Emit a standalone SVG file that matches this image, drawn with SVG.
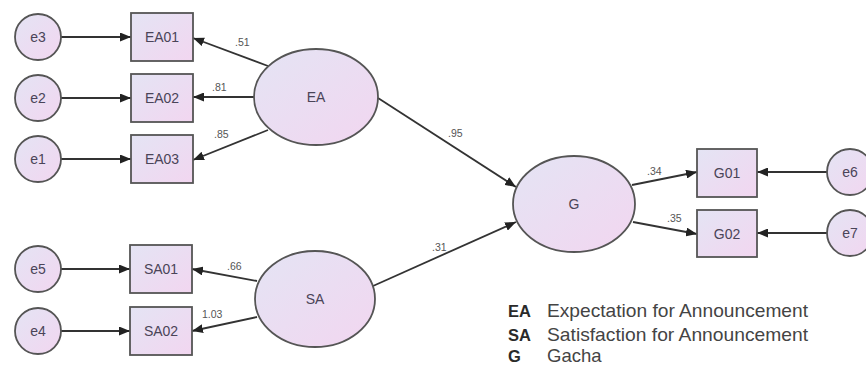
<svg xmlns="http://www.w3.org/2000/svg" width="866" height="369" viewBox="0 0 866 369">
<defs>
<linearGradient id="fill" x1="0" y1="0" x2="1" y2="1">
<stop offset="0" stop-color="#e4e4f4"/>
<stop offset="1" stop-color="#f2d6f0"/>
</linearGradient>
<marker id="arr" markerUnits="userSpaceOnUse" markerWidth="11" markerHeight="9" refX="11" refY="4.5" orient="auto">
<path d="M0,0 L11,4.5 L0,9 z" fill="#222"/>
</marker>
</defs>
<style>
.n{fill:url(#fill);stroke:#555;stroke-width:1.8}
.t{font-family:"Liberation Sans",Arial,sans-serif;font-size:14px;fill:#4a4458;text-anchor:middle}
.c{stroke:#333;stroke-width:1.8;fill:none;marker-end:url(#arr)}
.l{font-family:"Liberation Sans",Arial,sans-serif;font-size:10.5px;fill:#555}
.lb{font-family:"Liberation Sans",Arial,sans-serif;font-size:16.5px;font-weight:bold;fill:#2a2a2a}
.ld{font-family:"Liberation Sans",Arial,sans-serif;font-size:18.5px;fill:#444}
</style>
<g id="connectors">
<line class="c" x1="61" y1="37" x2="131" y2="37"/>
<line class="c" x1="61" y1="98" x2="131" y2="98"/>
<line class="c" x1="61" y1="159" x2="131" y2="159"/>
<line class="c" x1="61" y1="269" x2="130" y2="269"/>
<line class="c" x1="61" y1="331" x2="130" y2="331"/>
<line class="c" x1="268" y1="66" x2="193" y2="38"/>
<line class="c" x1="254" y1="97" x2="193" y2="97"/>
<line class="c" x1="268" y1="130" x2="193" y2="160"/>
<line class="c" x1="257" y1="281" x2="192" y2="269"/>
<line class="c" x1="257" y1="317" x2="192" y2="331"/>
<line class="c" x1="378" y1="98" x2="516" y2="187"/>
<line class="c" x1="373" y1="286" x2="516" y2="222"/>
<line class="c" x1="632" y1="185" x2="697" y2="172"/>
<line class="c" x1="633" y1="222" x2="697" y2="234"/>
<line class="c" x1="827" y1="172" x2="757" y2="172"/>
<line class="c" x1="827" y1="233" x2="757" y2="233"/>
<text class="l" x="235" y="46">.51</text>
<text class="l" x="212" y="91">.81</text>
<text class="l" x="214" y="138">.85</text>
<text class="l" x="448" y="137">.95</text>
<text class="l" x="432" y="251">.31</text>
<text class="l" x="227" y="270">.66</text>
<text class="l" x="202" y="318">1.03</text>
<text class="l" x="647" y="175">.34</text>
<text class="l" x="667" y="222">.35</text>
</g>
<g id="e3"><circle class="n" cx="38" cy="37" r="23"/><text class="t" x="38" y="42">e3</text></g>
<g id="e2"><circle class="n" cx="38" cy="98" r="23"/><text class="t" x="38" y="103">e2</text></g>
<g id="e1"><circle class="n" cx="38" cy="159" r="23"/><text class="t" x="38" y="164">e1</text></g>
<g id="e5"><circle class="n" cx="38" cy="269" r="23"/><text class="t" x="38" y="274">e5</text></g>
<g id="e4"><circle class="n" cx="38" cy="331" r="23"/><text class="t" x="38" y="336">e4</text></g>
<g id="e6"><circle class="n" cx="850" cy="172" r="23"/><text class="t" x="850" y="177">e6</text></g>
<g id="e7"><circle class="n" cx="850" cy="233" r="23"/><text class="t" x="850" y="238">e7</text></g>
<g id="EA01"><rect class="n" x="131" y="13" width="62" height="48"/><text class="t" x="162" y="42">EA01</text></g>
<g id="EA02"><rect class="n" x="131" y="74" width="62" height="48"/><text class="t" x="162" y="103">EA02</text></g>
<g id="EA03"><rect class="n" x="131" y="135" width="62" height="48"/><text class="t" x="162" y="164">EA03</text></g>
<g id="SA01"><rect class="n" x="130" y="245" width="62" height="48"/><text class="t" x="161" y="274">SA01</text></g>
<g id="SA02"><rect class="n" x="130" y="307" width="62" height="48"/><text class="t" x="161" y="336">SA02</text></g>
<g id="G01"><rect class="n" x="697" y="149" width="60" height="48"/><text class="t" x="727" y="178">G01</text></g>
<g id="G02"><rect class="n" x="697" y="210" width="60" height="47"/><text class="t" x="727" y="239">G02</text></g>
<g id="EA"><ellipse class="n" cx="316" cy="97" rx="62" ry="48"/><text class="t" x="316" y="102">EA</text></g>
<g id="SA"><ellipse class="n" cx="315" cy="299" rx="60" ry="48"/><text class="t" x="315" y="304">SA</text></g>
<g id="G"><ellipse class="n" cx="574" cy="204" rx="61" ry="48"/><text class="t" x="574" y="209">G</text></g>
<g id="legend">
<text class="lb" x="508" y="317">EA</text>
<text class="ld" x="547" y="317" textLength="261" lengthAdjust="spacingAndGlyphs">Expectation for Announcement</text>
<text class="lb" x="508" y="341">SA</text>
<text class="ld" x="547" y="341" textLength="261" lengthAdjust="spacingAndGlyphs">Satisfaction for Announcement</text>
<text class="lb" x="508" y="362">G</text>
<text class="ld" x="547" y="362">Gacha</text>
</g>
</svg>
